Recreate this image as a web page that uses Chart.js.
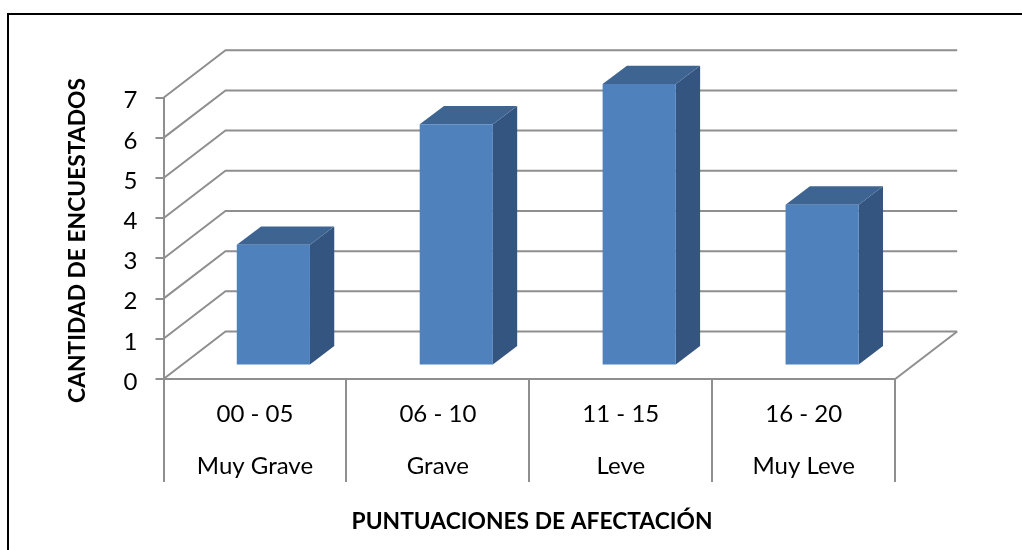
<!DOCTYPE html>
<html>
<head>
<meta charset="utf-8">
<style>
html,body{margin:0;padding:0;background:#fff;width:1022px;height:550px;overflow:hidden}
#wrap{position:relative;width:1022px;height:550px}
#frame{position:absolute;left:7px;top:13px;right:-10px;bottom:-10px;border:2px solid #000;pointer-events:none}
canvas{display:block}
</style>
<script src="https://cdn.jsdelivr.net/npm/chart.js@4"></script>
</head>
<body>
<div id="wrap"><canvas id="c" width="1022" height="550"></canvas><div id="frame"></div></div>
<script>
const scoreRanges = ['00 - 05', '06 - 10', '11 - 15', '16 - 20'];
const severity = ['Muy Grave', 'Grave', 'Leve', 'Muy Leve'];
const respondents = [3, 6, 7, 4];
const yTitle = 'CANTIDAD DE ENCUESTADOS';
const xTitle = 'PUNTUACIONES DE AFECTACIÓN';

const FONT = 'Lato';
const AXIS = '#8f8f8f';
const WALL = [62, -47.5];    // depth of the 3D box
const BAR_SHIFT = [18.4, -13.6]; // bars stand mid-floor
const BAR_DEPTH = [24.3, -18.3];

const box3d = {
  id: 'box3d',
  afterLayout(chart) {
    chart.scales.y.getLabelItems().forEach(it => { it.textOffset += 3; });
  },
  beforeDatasetsDraw(chart) {
    const {ctx, chartArea: a, scales: {y}} = chart;
    ctx.save();
    ctx.strokeStyle = AXIS;
    ctx.lineWidth = 2;
    y.ticks.forEach(t => {
      const p = y.getPixelForValue(t.value);
      ctx.beginPath();
      ctx.moveTo(a.left, p);
      ctx.lineTo(a.left + WALL[0], p + WALL[1]);
      ctx.lineTo(a.right + WALL[0], p + WALL[1]);
      ctx.stroke();
    });
    const b = y.getPixelForValue(0);
    ctx.beginPath();
    ctx.moveTo(a.right, b);
    ctx.lineTo(a.right + WALL[0], b + WALL[1]);
    ctx.stroke();
    ctx.restore();
  },
  beforeDatasetDraw(chart, args) {
    const {ctx} = chart;
    ctx.save();
    ctx.translate(BAR_SHIFT[0], BAR_SHIFT[1]);
    args.meta.data.forEach(el => {
      const {x, y, base, width} = el.getProps(['x', 'y', 'base', 'width'], true);
      const r = x + width / 2, l = x - width / 2;
      ctx.fillStyle = '#33557f';
      ctx.beginPath();
      ctx.moveTo(r, y); ctx.lineTo(r + BAR_DEPTH[0], y + BAR_DEPTH[1]);
      ctx.lineTo(r + BAR_DEPTH[0], base + BAR_DEPTH[1]); ctx.lineTo(r, base);
      ctx.closePath(); ctx.fill();
      ctx.fillStyle = '#3e6492';
      ctx.beginPath();
      ctx.moveTo(l, y); ctx.lineTo(l + BAR_DEPTH[0], y + BAR_DEPTH[1]);
      ctx.lineTo(r + BAR_DEPTH[0], y + BAR_DEPTH[1]); ctx.lineTo(r, y);
      ctx.closePath(); ctx.fill();
    });
  },
  afterDatasetDraw(chart) {
    chart.ctx.restore();
  },
  afterDraw(chart) {
    const {ctx} = chart;
    ctx.save();
    ctx.fillStyle = '#000';
    ctx.font = 'bold 22.8px ' + FONT;
    ctx.textAlign = 'center';
    ctx.textBaseline = 'middle';
    ctx.fillText(xTitle, 532, 521.5);
    ctx.translate(77.5, 240.5);
    ctx.rotate(-Math.PI / 2);
    ctx.fillText(yTitle, 0, 0);
    ctx.restore();
  }
};

new Chart(document.getElementById('c'), {
  type: 'bar',
  plugins: [box3d],
  data: {
    labels: scoreRanges.map((r, i) => [r, severity[i]]),
    datasets: [{
      data: respondents,
      backgroundColor: '#4f81bd',
      barPercentage: 0.4,
      categoryPercentage: 1,
      clip: false
    }]
  },
  options: {
    responsive: false,
    animation: false,
    events: [],
    layout: {padding: {left: 0, right: 126.8, top: 97.7, bottom: 0}},
    plugins: {legend: {display: false}, tooltip: {enabled: false}, title: {display: false}},
    scales: {
      x: {
        afterFit(s) { s.height = 171; },
        grid: {drawOnChartArea: false, drawTicks: true, tickLength: 103, color: AXIS, lineWidth: 2, offset: true},
        border: {display: true, color: AXIS, width: 2},
        ticks: {
          autoSkip: false, maxRotation: 0, minRotation: 0, color: '#000',
          padding: -94,
          font: {family: FONT, size: 24, lineHeight: 2.167}
        }
      },
      y: {
        min: 0, max: 7,
        afterFit(s) { s.width = 163.5; },
        grid: {drawOnChartArea: false, drawTicks: true, tickLength: 8, color: AXIS, lineWidth: 2},
        border: {display: true, color: AXIS, width: 2},
        ticks: {stepSize: 1, color: '#000', padding: 18, font: {family: FONT, size: 24}}
      }
    }
  }
});
</script>
</body>
</html>
